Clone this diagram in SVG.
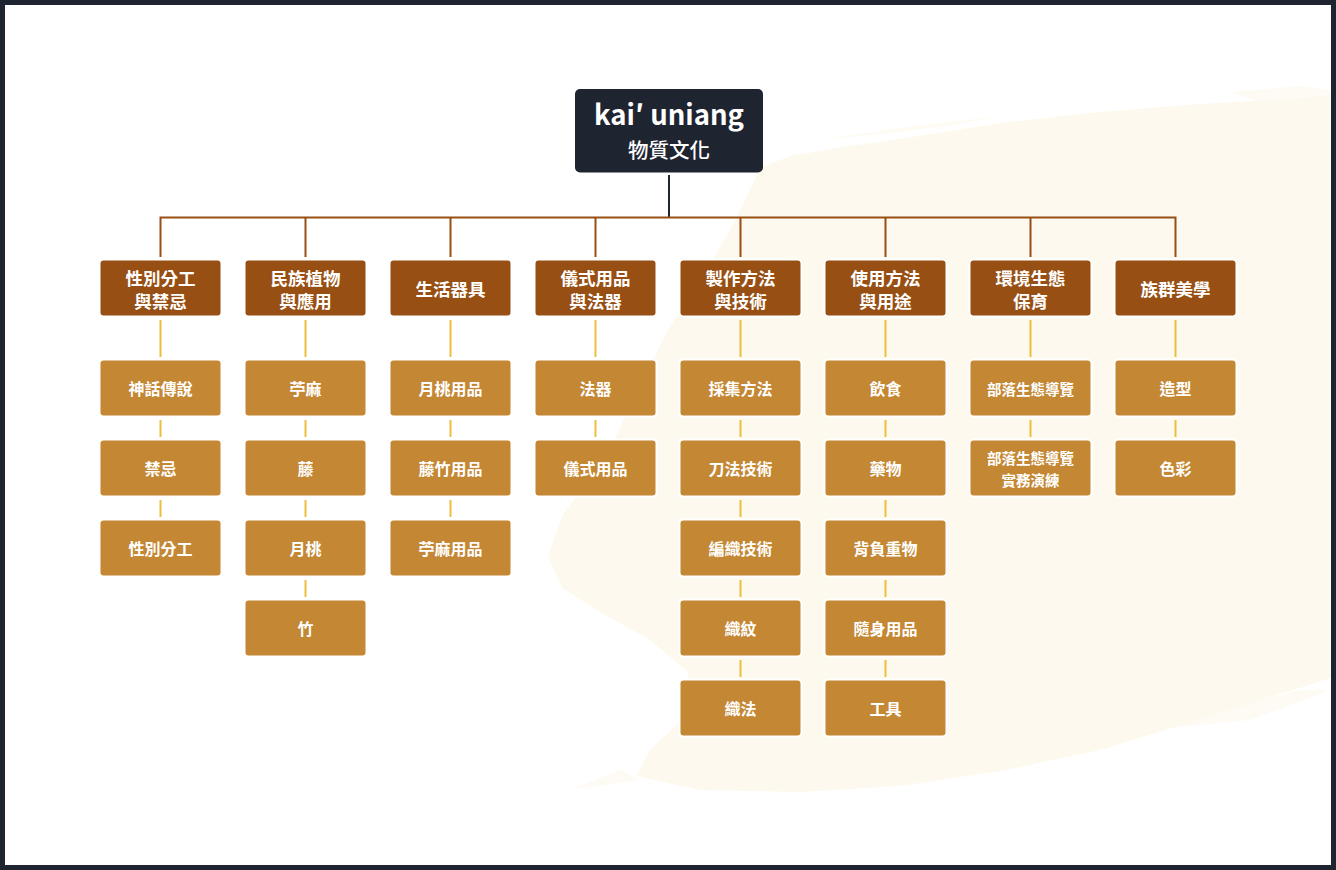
<svg xmlns="http://www.w3.org/2000/svg" width="1336" height="870" viewBox="0 0 1336 870">
<style>
text{font-family:"Noto Sans CJK TC","Noto Sans",sans-serif;fill:#fff;text-anchor:middle;dominant-baseline:central}
.cat rect{fill:#974f14;stroke:#fff;stroke-width:2}
.leaf rect{fill:#c48733;stroke:#fff;stroke-width:2}
.cat text{font-size:17.5px;font-weight:700}
.leaf text{font-size:16px;font-weight:700}
.leaf text.sm{font-size:14.5px}
.brown{stroke:#974f14;stroke-width:2;fill:none}
.gold{stroke:#edbd3d;stroke-width:2;fill:none}
</style>
<rect x="0" y="0" width="1336" height="870" fill="#1f2431"/>
<rect x="5" y="5" width="1326" height="860" fill="#fff"/>
<g id="brush" fill="#fdf9ee">
<path d="M760 168 L790 156 L850 146 L900 139 L1000 123 L1100 112 L1200 104 L1270 100 L1331 96 L1331 678 L1230 710 L1100 750 L1000 771 L900 786 L800 792 L700 790 L636 776 L650 750 L690 712 L688 672 L650 640 L600 612 L562 588 L548 556 L562 516 L590 478 L615 438 L640 385 L668 330 L700 280 L730 230 L750 190 Z"/>
<path d="M820 140 L900 128 L1000 116 L960 124 L880 134 Z" opacity="0.7"/>
<path d="M1230 92 L1300 86 L1331 90 L1331 100 L1260 102 Z" opacity="0.6"/>
<path d="M640 780 L570 790 L620 770 Z" opacity="0.6"/>
<path d="M1150 730 L1300 690 L1331 690 L1250 720 Z" opacity="0.6"/>
</g>
<g id="connectors">
<line x1="669" y1="175" x2="669" y2="217" stroke="#1f2431" stroke-width="2"/>
<path class="brown" d="M160.5 257 V217.5 H1175.5 V257 M305.5 217.5 V257 M450.5 217.5 V257 M595.5 217.5 V257 M740.5 217.5 V257 M885.5 217.5 V257 M1030.5 217.5 V257"/>
<path class="gold" d="M160.5 320 V357 M160.5 420 V437 M160.5 500 V517
M305.5 320 V357 M305.5 420 V437 M305.5 500 V517 M305.5 580 V597
M450.5 320 V357 M450.5 420 V437 M450.5 500 V517
M595.5 320 V357 M595.5 420 V437
M740.5 320 V357 M740.5 420 V437 M740.5 500 V517 M740.5 580 V597 M740.5 660 V677
M885.5 320 V357 M885.5 420 V437 M885.5 500 V517 M885.5 580 V597 M885.5 660 V677
M1030.5 320 V357 M1030.5 420 V437
M1175.5 320 V357 M1175.5 420 V437"/>
</g>
<g id="root">
<rect x="575" y="89" width="188" height="83.5" rx="5" fill="#1f2431"/>
<text x="669" y="113" style="font-size:27.5px;font-weight:700">kai′ uniang</text>
<text x="669" y="149" style="font-size:20.5px;font-weight:500">物質文化</text>
</g>
<g id="c1" class="cat"><rect x="99.5" y="259.5" width="122" height="57" rx="4"/><text x="160.5" y="277">性別分工</text><text x="160.5" y="300">與禁忌</text></g>
<g id="c2" class="cat"><rect x="244.5" y="259.5" width="122" height="57" rx="4"/><text x="305.5" y="277">民族植物</text><text x="305.5" y="300">與應用</text></g>
<g id="c3" class="cat"><rect x="389.5" y="259.5" width="122" height="57" rx="4"/><text x="450.5" y="288">生活器具</text></g>
<g id="c4" class="cat"><rect x="534.5" y="259.5" width="122" height="57" rx="4"/><text x="595.5" y="277">儀式用品</text><text x="595.5" y="300">與法器</text></g>
<g id="c5" class="cat"><rect x="679.5" y="259.5" width="122" height="57" rx="4"/><text x="740.5" y="277">製作方法</text><text x="740.5" y="300">與技術</text></g>
<g id="c6" class="cat"><rect x="824.5" y="259.5" width="122" height="57" rx="4"/><text x="885.5" y="277">使用方法</text><text x="885.5" y="300">與用途</text></g>
<g id="c7" class="cat"><rect x="969.5" y="259.5" width="122" height="57" rx="4"/><text x="1030.5" y="277">環境生態</text><text x="1030.5" y="300">保育</text></g>
<g id="c8" class="cat"><rect x="1114.5" y="259.5" width="122" height="57" rx="4"/><text x="1175.5" y="288">族群美學</text></g>

<g id="l1a" class="leaf"><rect x="99.5" y="359.5" width="122" height="57" rx="4"/><text x="160.5" y="388">神話傳說</text></g>
<g id="l1b" class="leaf"><rect x="99.5" y="439.5" width="122" height="57" rx="4"/><text x="160.5" y="468">禁忌</text></g>
<g id="l1c" class="leaf"><rect x="99.5" y="519.5" width="122" height="57" rx="4"/><text x="160.5" y="548">性別分工</text></g>

<g id="l2a" class="leaf"><rect x="244.5" y="359.5" width="122" height="57" rx="4"/><text x="305.5" y="388">苧麻</text></g>
<g id="l2b" class="leaf"><rect x="244.5" y="439.5" width="122" height="57" rx="4"/><text x="305.5" y="468">藤</text></g>
<g id="l2c" class="leaf"><rect x="244.5" y="519.5" width="122" height="57" rx="4"/><text x="305.5" y="548">月桃</text></g>
<g id="l2d" class="leaf"><rect x="244.5" y="599.5" width="122" height="57" rx="4"/><text x="305.5" y="628">竹</text></g>

<g id="l3a" class="leaf"><rect x="389.5" y="359.5" width="122" height="57" rx="4"/><text x="450.5" y="388">月桃用品</text></g>
<g id="l3b" class="leaf"><rect x="389.5" y="439.5" width="122" height="57" rx="4"/><text x="450.5" y="468">藤竹用品</text></g>
<g id="l3c" class="leaf"><rect x="389.5" y="519.5" width="122" height="57" rx="4"/><text x="450.5" y="548">苧麻用品</text></g>

<g id="l4a" class="leaf"><rect x="534.5" y="359.5" width="122" height="57" rx="4"/><text x="595.5" y="388">法器</text></g>
<g id="l4b" class="leaf"><rect x="534.5" y="439.5" width="122" height="57" rx="4"/><text x="595.5" y="468">儀式用品</text></g>

<g id="l5a" class="leaf"><rect x="679.5" y="359.5" width="122" height="57" rx="4"/><text x="740.5" y="388">採集方法</text></g>
<g id="l5b" class="leaf"><rect x="679.5" y="439.5" width="122" height="57" rx="4"/><text x="740.5" y="468">刀法技術</text></g>
<g id="l5c" class="leaf"><rect x="679.5" y="519.5" width="122" height="57" rx="4"/><text x="740.5" y="548">編織技術</text></g>
<g id="l5d" class="leaf"><rect x="679.5" y="599.5" width="122" height="57" rx="4"/><text x="740.5" y="628">織紋</text></g>
<g id="l5e" class="leaf"><rect x="679.5" y="679.5" width="122" height="57" rx="4"/><text x="740.5" y="708">織法</text></g>

<g id="l6a" class="leaf"><rect x="824.5" y="359.5" width="122" height="57" rx="4"/><text x="885.5" y="388">飲食</text></g>
<g id="l6b" class="leaf"><rect x="824.5" y="439.5" width="122" height="57" rx="4"/><text x="885.5" y="468">藥物</text></g>
<g id="l6c" class="leaf"><rect x="824.5" y="519.5" width="122" height="57" rx="4"/><text x="885.5" y="548">背負重物</text></g>
<g id="l6d" class="leaf"><rect x="824.5" y="599.5" width="122" height="57" rx="4"/><text x="885.5" y="628">隨身用品</text></g>
<g id="l6e" class="leaf"><rect x="824.5" y="679.5" width="122" height="57" rx="4"/><text x="885.5" y="708">工具</text></g>

<g id="l7a" class="leaf"><rect x="969.5" y="359.5" width="122" height="57" rx="4"/><text class="sm" x="1030.5" y="388">部落生態導覽</text></g>
<g id="l7b" class="leaf"><rect x="969.5" y="439.5" width="122" height="57" rx="4"/><text class="sm" x="1030.5" y="457">部落生態導覽</text><text class="sm" x="1030.5" y="479">實務演練</text></g>

<g id="l8a" class="leaf"><rect x="1114.5" y="359.5" width="122" height="57" rx="4"/><text x="1175.5" y="388">造型</text></g>
<g id="l8b" class="leaf"><rect x="1114.5" y="439.5" width="122" height="57" rx="4"/><text x="1175.5" y="468">色彩</text></g>
</svg>
